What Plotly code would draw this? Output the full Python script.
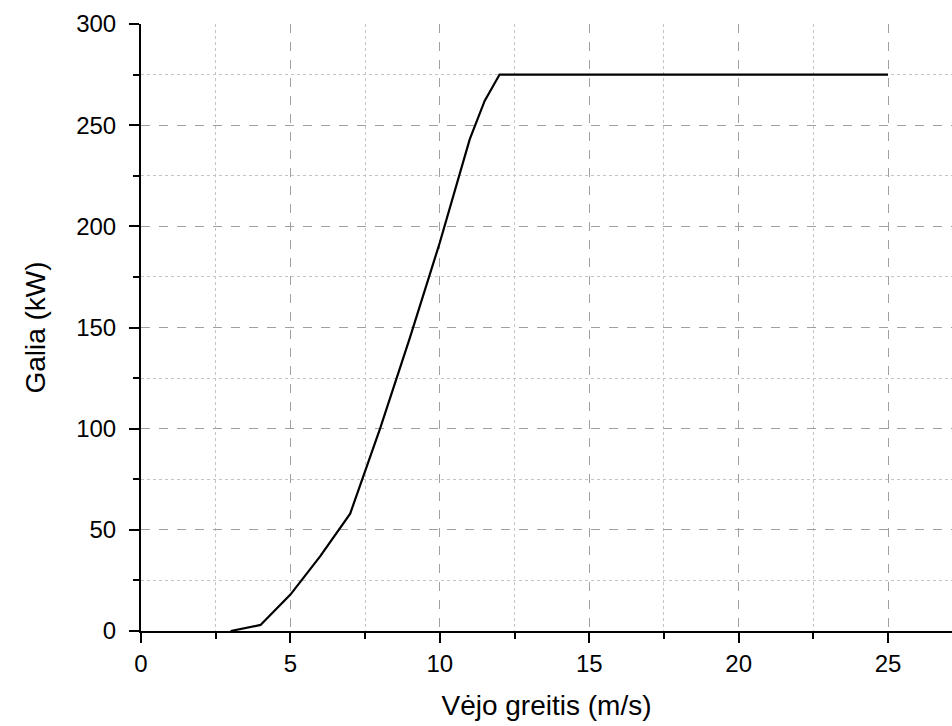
import plotly.graph_objects as go

wind_speed = [3, 4, 5, 6, 7, 8, 9, 10, 11, 11.5, 12, 25]
power_kw = [0, 3, 18, 37, 58, 100, 145, 192, 243, 262, 275, 275]

x_title = "Vėjo greitis (m/s)"
y_title = "Galia (kW)"
x_ticks = [0, 5, 10, 15, 20, 25]
x_minor = [2.5, 7.5, 12.5, 17.5, 22.5]
y_ticks = [0, 50, 100, 150, 200, 250, 300]
y_minor = [25, 75, 125, 175, 225, 275]

fig = go.Figure()
fig.add_trace(go.Scatter(
    x=wind_speed, y=power_kw, mode="lines",
    line=dict(color="black", width=2.2),
    showlegend=False, cliponaxis=False,
))

font = "Liberation Sans, Arial, sans-serif"

fig.update_layout(
    width=952, height=726,
    margin=dict(l=141, r=0, t=24, b=95),
    paper_bgcolor="white", plot_bgcolor="white",
    font=dict(family=font, color="black"),
)

fig.update_xaxes(
    range=[0, 27.14],
    tickvals=x_ticks, ticktext=[str(v) for v in x_ticks],
    ticks="outside", ticklen=10, tickwidth=2, tickcolor="black",
    tickfont=dict(size=24, family=font),
    ticklabelstandoff=0,
    showline=True, linewidth=2, linecolor="black",
    showgrid=True, gridcolor="#a0a0a0", gridwidth=1, griddash="dash",
    zeroline=False,
    minor=dict(tickvals=x_minor, ticks="outside", ticklen=6, tickwidth=2,
               tickcolor="black", showgrid=True, gridcolor="#c4c4c4",
               gridwidth=1, griddash="dot"),
    title=dict(text=x_title, font=dict(size=28, family=font), standoff=20),
)

fig.update_yaxes(
    range=[0, 300],
    tickvals=y_ticks, ticktext=[str(v) for v in y_ticks],
    ticks="outside", ticklen=10, tickwidth=2, tickcolor="black",
    tickfont=dict(size=24, family=font),
    ticklabelstandoff=8,
    showline=True, linewidth=2, linecolor="black",
    showgrid=True, gridcolor="#a0a0a0", gridwidth=1, griddash="dash",
    zeroline=False,
    minor=dict(tickvals=y_minor, ticks="outside", ticklen=6, tickwidth=2,
               tickcolor="black", showgrid=True, gridcolor="#c4c4c4",
               gridwidth=1, griddash="dot"),
    title=dict(text=y_title, font=dict(size=28, family=font), standoff=22),
)

fig.write_html(
    "out.html",
    config={"displayModeBar": False},
    post_script="document.body.style.margin='0';document.body.style.overflow='hidden';",
)
